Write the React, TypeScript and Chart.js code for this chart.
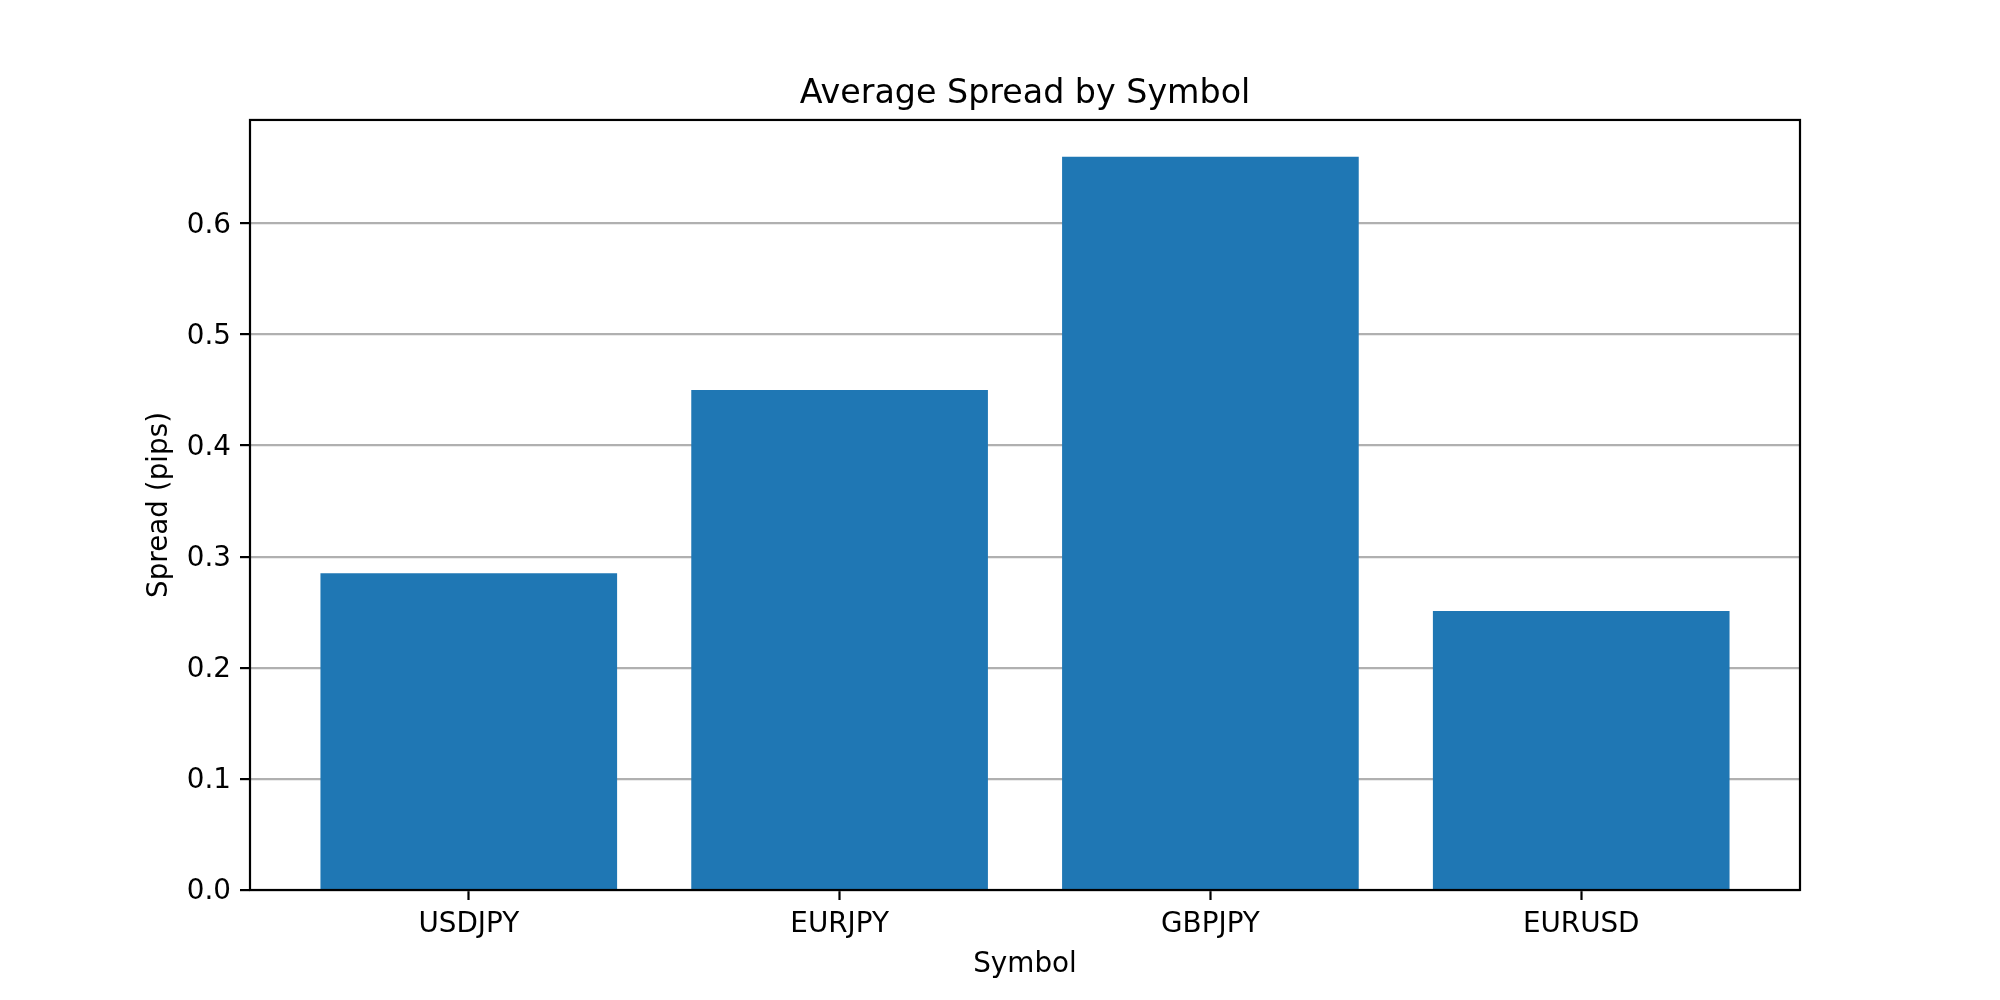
import { useEffect, useRef } from "react"
import { Chart, registerables } from "chart.js"

Chart.register(...registerables)

const symbols = ["USDJPY", "EURJPY", "GBPJPY", "EURUSD"]
const spreads = [0.285, 0.45, 0.66, 0.251]
const yTicks = [0.0, 0.1, 0.2, 0.3, 0.4, 0.5, 0.6]

// matplotlib-like frame around the plot area
const framePlugin = {
  id: "frame",
  afterDraw: (chart: Chart) => {
    const { ctx, chartArea } = chart
    ctx.save()
    ctx.strokeStyle = "#000"
    ctx.lineWidth = 2.2
    ctx.strokeRect(chartArea.left, chartArea.top, chartArea.right - chartArea.left, chartArea.bottom - chartArea.top)
    ctx.restore()
  },
}

export default function App() {
  const canvasRef = useRef<HTMLCanvasElement>(null)

  useEffect(() => {
    if (!canvasRef.current) return
    document.body.style.margin = "0"
    Chart.defaults.font.family = "'DejaVu Sans', sans-serif"
    Chart.defaults.color = "#000"

    const chart = new Chart(canvasRef.current, {
      type: "bar",
      data: {
        datasets: [
          {
            data: spreads.map((v, i) => ({ x: i, y: v })),
            backgroundColor: "#1f77b4",
            borderWidth: 0,
            barPercentage: 0.8,
            categoryPercentage: 1.0,
          },
        ],
      },
      options: {
        animation: false,
        responsive: true,
        maintainAspectRatio: false,
        devicePixelRatio: 1,
        layout: { padding: { left: 0, right: 200, top: 0, bottom: 0 } },
        plugins: {
          legend: { display: false },
          tooltip: { enabled: false },
          title: {
            display: true,
            fullSize: false,
            text: "Average Spread by Symbol",
            font: { size: 33.3, weight: "normal" },
            padding: { top: 74, bottom: 6 },
          },
        },
        scales: {
          x: {
            type: "linear",
            min: -0.59,
            max: 3.59,
            offset: false,
            afterBuildTicks: (scale: any) => {
              scale.ticks = symbols.map((_, i) => ({ value: i }))
            },
            afterFit: (scale: any) => {
              scale.height = 110
            },
            ticks: {
              callback: (v: any) => symbols[v as number],
              font: { size: 27.8 },
              padding: 8,
              maxRotation: 0,
              autoSkip: false,
            },
            grid: {
              offset: false,
              drawOnChartArea: false,
              drawTicks: true,
              tickLength: 10,
              tickColor: "#000",
              tickWidth: 2.2,
            },
            border: { display: false },
            title: {
              display: true,
              text: "Symbol",
              font: { size: 27.8 },
              padding: { top: 0, bottom: 19 },
            },
          },
          y: {
            min: 0,
            max: 0.693,
            z: 1,
            afterBuildTicks: (scale: any) => {
              scale.ticks = yTicks.map((v) => ({ value: v }))
            },
            afterFit: (scale: any) => {
              scale.width = 250
            },
            ticks: {
              callback: (v: any) => Number(v).toFixed(1),
              font: { size: 27.8 },
              padding: 9,
              labelOffset: 2,
            },
            grid: {
              color: "#b0b0b0",
              lineWidth: 2.2,
              drawTicks: true,
              tickLength: 10,
              tickColor: "#000",
              tickWidth: 2.2,
            },
            border: { display: false },
            title: {
              display: true,
              text: "Spread (pips)",
              font: { size: 27.8 },
              padding: { top: 143, bottom: 0 },
            },
          },
        },
      },
      plugins: [framePlugin],
    } as any)

    return () => chart.destroy()
  }, [])

  return (
    <div style={{ position: "absolute", left: 0, top: 0, width: 2000, height: 1000, background: "#fff" }}>
      <canvas ref={canvasRef} />
    </div>
  )
}
